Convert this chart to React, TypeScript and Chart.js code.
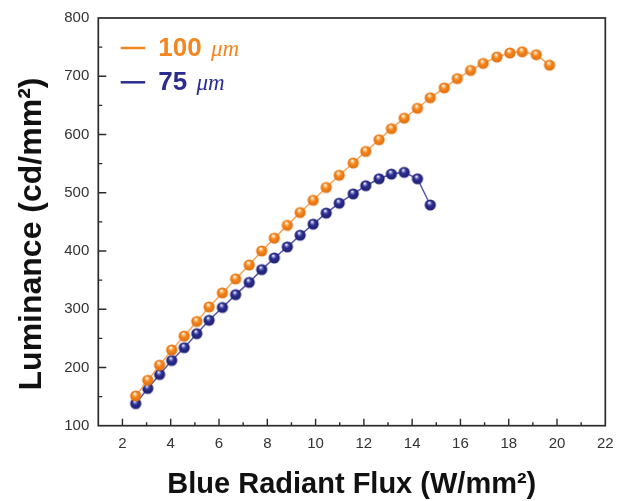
import React, { useEffect, useRef } from "react";
import { Chart, registerables } from "chart.js";

Chart.register(...registerables);

// ---- data ----
const flux100 = [2.55, 3.05, 3.54, 4.04, 4.56, 5.08, 5.59, 6.14, 6.69, 7.25, 7.77, 8.29, 8.83, 9.36, 9.9, 10.44, 10.98, 11.56, 12.08, 12.63, 13.14, 13.67, 14.22, 14.75, 15.33, 15.87, 16.42, 16.94, 17.51, 18.05, 18.56, 19.14, 19.69];
const lum100 = [151, 178, 204, 230, 254, 279, 304, 328, 352, 376, 400, 422, 444, 466, 487, 509, 530, 551, 571, 591, 610, 628, 645, 663, 680, 696, 710, 722, 733, 740, 742, 737, 719];
const flux75 = [2.55, 3.05, 3.54, 4.04, 4.56, 5.08, 5.59, 6.14, 6.69, 7.25, 7.77, 8.29, 8.83, 9.36, 9.9, 10.44, 10.98, 11.56, 12.08, 12.63, 13.14, 13.67, 14.22, 14.75];
const lum75 = [138, 164, 188, 212, 234, 258, 281, 303, 325, 346, 368, 388, 407, 427, 446, 465, 482, 498, 512, 524, 532, 535, 524, 479];

const seriesLabels = ["100 μm", "75 μm"];
const xTickValues = [2, 4, 6, 8, 10, 12, 14, 16, 18, 20, 22];
const xMinorValues = [3, 5, 7, 9, 11, 13, 15, 17, 19, 21];
const yTickValues = [100, 200, 300, 400, 500, 600, 700, 800];
const yMinorValues = [150, 250, 350, 450, 550, 650, 750];
const xTitle = "Blue Radiant Flux (W/mm²)";
const yTitle = "Luminance (cd/mm²)";

const ORANGE = "#F5851F";
const BLUE = "#2B2D8E";

function ball(base: string, light: string, dark: string, r: number) {
  const c = document.createElement("canvas");
  const s = Math.ceil(2 * r + 2);
  c.width = s;
  c.height = s;
  const g = c.getContext("2d")!;
  const cx = s / 2;
  const cy = s / 2;
  const grad = g.createRadialGradient(cx - r * 0.2, cy - r * 0.45, r * 0.05, cx, cy, r);
  grad.addColorStop(0, "#ffffff");
  grad.addColorStop(0.22, light);
  grad.addColorStop(0.45, base);
  grad.addColorStop(1, dark);
  g.fillStyle = grad;
  g.beginPath();
  g.arc(cx, cy, r, 0, Math.PI * 2);
  g.fill();
  return c;
}

const framePlugin = {
  id: "frameTicks",
  afterDraw(chart: any) {
    const { ctx, chartArea: a, scales } = chart;
    ctx.save();
    ctx.strokeStyle = "#2a2a2a";
    ctx.lineWidth = 1.4;
    ctx.beginPath();
    xTickValues.forEach((v) => {
      if (v >= 22) return;
      const p = scales.x.getPixelForValue(v);
      ctx.moveTo(p, a.bottom);
      ctx.lineTo(p, a.bottom - 7);
    });
    xMinorValues.forEach((v) => {
      const p = scales.x.getPixelForValue(v);
      ctx.moveTo(p, a.bottom);
      ctx.lineTo(p, a.bottom - 3.5);
    });
    yTickValues.forEach((v) => {
      if (v <= 100 || v >= 800) return;
      const p = scales.y.getPixelForValue(v);
      ctx.moveTo(a.left, p);
      ctx.lineTo(a.left + 8, p);
    });
    yMinorValues.forEach((v) => {
      const p = scales.y.getPixelForValue(v);
      ctx.moveTo(a.left, p);
      ctx.lineTo(a.left + 4, p);
    });
    ctx.stroke();
    ctx.lineWidth = 1.7;
    ctx.strokeRect(a.left, a.top, a.right - a.left, a.bottom - a.top);

    // y axis title
    ctx.save();
    ctx.translate(32, 234);
    ctx.rotate(-Math.PI / 2);
    ctx.font = "bold 32px 'Liberation Sans', Arial, sans-serif";
    ctx.fillStyle = "#111";
    ctx.textAlign = "center";
    ctx.textBaseline = "middle";
    ctx.fillText(yTitle, 0, 0);
    ctx.restore();

    // legend
    const items = chart.data.datasets.map((d: any, i: number) => ({
      label: seriesLabels[i],
      color: d.legendColor,
    }));
    items.forEach((it: any, i: number) => {
      const y = a.top + 30 + i * 34.3;
      const x0 = a.left + 22.4;
      ctx.strokeStyle = it.color;
      ctx.lineWidth = 2.5;
      ctx.beginPath();
      ctx.moveTo(x0, y);
      ctx.lineTo(x0 + 24.5, y);
      ctx.stroke();
      const [num, unit] = it.label.split(" ");
      ctx.fillStyle = it.color;
      ctx.textBaseline = "middle";
      ctx.textAlign = "left";
      ctx.font = "bold 26px 'Liberation Sans', Arial, sans-serif";
      const tx = a.left + 60;
      ctx.fillText(num, tx, y + 1);
      const w = ctx.measureText(num + " ").width;
      ctx.font = "italic 23px 'Liberation Serif', serif";
      ctx.fillText(unit, tx + w + 2, y + 2);
    });
    ctx.restore();
  },
};

export default function App() {
  const ref = useRef<HTMLCanvasElement | null>(null);
  useEffect(() => {
    if (!ref.current) return;
    const ballO = ball(ORANGE, "#FCC27E", "#E0700E", 5.6);
    const ballB = ball(BLUE, "#7E82D0", "#1E2070", 5.6);
    const chart = new Chart(ref.current, {
      type: "line",
      data: {
        datasets: [
          {
            label: seriesLabels[0],
            data: flux100.map((x, i) => ({ x, y: lum100[i] })),
            borderColor: "#F8A55A",
            borderWidth: 1.5,
            pointStyle: ballO as any,
            pointRadius: 5.6,
            tension: 0,
            legendColor: ORANGE,
          } as any,
          {
            label: seriesLabels[1],
            data: flux75.map((x, i) => ({ x, y: lum75[i] })),
            borderColor: "#5456AE",
            borderWidth: 1.5,
            pointStyle: ballB as any,
            pointRadius: 5.6,
            tension: 0,
            legendColor: BLUE,
          } as any,
        ],
      },
      options: {
        responsive: false,
        animation: false,
        layout: { padding: { top: 16.7, right: 20.7, left: 0, bottom: 0 } },
        plugins: { legend: { display: false }, tooltip: { enabled: false } },
        scales: {
          x: {
            type: "linear",
            min: 1,
            max: 22,
            afterBuildTicks: (s: any) => {
              s.ticks = xTickValues.map((v) => ({ value: v }));
            },
            afterFit: (s: any) => {
              s.height = 75.3;
            },
            grid: { display: false, drawTicks: false },
            border: { display: false },
            ticks: {
              autoSkip: false,
              maxRotation: 0,
              padding: 9,
              color: "#333",
              font: { family: "'Liberation Sans', Arial, sans-serif", size: 15 },
              callback: (v: any) => String(v),
            },
            title: {
              display: true,
              text: xTitle,
              color: "#111",
              font: { family: "'Liberation Sans', Arial, sans-serif", size: 29, weight: "bold", lineHeight: 1.1 },
              padding: { top: 0, bottom: 0 },
            },
          },
          y: {
            type: "linear",
            min: 100,
            max: 800,
            afterBuildTicks: (s: any) => {
              s.ticks = yTickValues.map((v) => ({ value: v }));
            },
            afterFit: (s: any) => {
              s.width = 98.3;
            },
            grid: { display: false, drawTicks: false },
            border: { display: false },
            ticks: {
              autoSkip: false,
              padding: 9,
              color: "#333",
              font: { family: "'Liberation Sans', Arial, sans-serif", size: 15 },
              callback: (v: any) => String(v),
            },
          },
        },
      },
      plugins: [framePlugin],
    });
    return () => chart.destroy();
  }, []);
  return (
    <div style={{ position: "fixed", left: 0, top: 0, width: 626, height: 501, background: "#fff" }}>
      <canvas ref={ref} width={626} height={501} />
    </div>
  );
}
